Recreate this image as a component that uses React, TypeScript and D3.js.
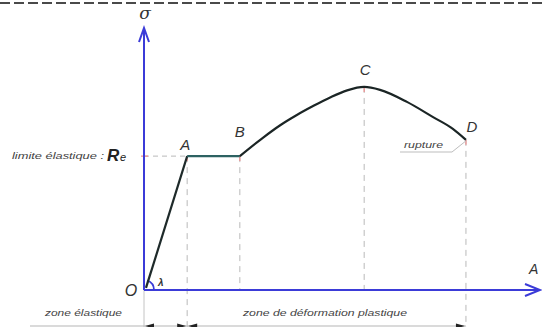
import React from "react";
import * as d3 from "d3";

// Key points of the stress–strain diagram
const keyLabels = ["O", "A", "B", "C", "D"];
const keyStrain = [0, 10.9, 24.2, 55.6, 81.3];
const keyStress = [0, 51.1, 51.1, 77.5, 57.3];

// Strain-hardening / necking curve from B through C to D
const hardeningStrain = [24.2, 30.1, 34.3, 38.6, 42.7, 47.0, 51.3, 55.6, 59.6, 66.4, 73.0, 78.0, 81.3];
const hardeningStress = [51.1, 58.2, 62.8, 66.8, 70.2, 73.5, 76.2, 77.5, 76.4, 71.8, 66.0, 61.5, 57.3];

const zoneLabels = ["zone élastique", "zone de déformation plastique"];

const W = 542;
const H = 327;

export default function App() {
  const x = d3.scaleLinear().domain([0, 100]).range([144, 540]);
  const y = d3.scaleLinear().domain([0, 100]).range([290, 28]);

  const pt = (i: number) => ({ x: x(keyStrain[i]), y: y(keyStress[i]) });
  const O = pt(0), A = pt(1), B = pt(2), C = pt(3), D = pt(4);

  const line = d3
    .line<[number, number]>()
    .x((d) => x(d[0]))
    .y((d) => y(d[1]));
  const smooth = d3
    .line<[number, number]>()
    .x((d) => x(d[0]))
    .y((d) => y(d[1]))
    .curve(d3.curveMonotoneX);

  const elastic = line([
    [keyStrain[0] + 0.5, keyStress[0] + 0.8],
    [keyStrain[1], keyStress[1]],
  ]);
  const plateau = line([
    [keyStrain[1], keyStress[1]],
    [keyStrain[2], keyStress[2]],
  ]);
  const hardening = smooth(hardeningStrain.map((s, i) => [s, hardeningStress[i]] as [number, number]));

  const axisColor = "#3b3bd8";
  const dashColor = "#b9b9b9";
  const pink = "#ef8c8c";
  const bottomY = 326;

  // angle arc at the origin between the strain axis and the elastic line
  const ang = Math.atan2(A.y - O.y, A.x - O.x);
  const r = 10;
  const arc = `M${O.x + r},${O.y} A${r},${r} 0 0 0 ${O.x + r * Math.cos(ang)},${O.y + r * Math.sin(ang)}`;

  const arrowHead = (tx: number, dir: number) =>
    `M${tx},${bottomY} L${tx + dir * 9},${bottomY - 2.5} L${tx + dir * 9},${bottomY + 2.5} Z`;

  return (
    <svg
      width={W}
      height={H}
      style={{ position: "absolute", left: 0, top: 0, background: "#fff" }}
      fontFamily="Liberation Sans, Arial, sans-serif"
    >
      <rect width={W} height={H} fill="#fff" />
      {/* top border */}
      <line x1={0} x2={W} y1={3} y2={3} stroke="#4a4a4a" strokeWidth={2} strokeDasharray="10 4" />

      {/* guide lines */}
      <line x1={O.x} x2={A.x} y1={A.y} y2={A.y} stroke={dashColor} strokeDasharray="5 4" />
      <line x1={O.x - 3} x2={O.x + 4} y1={A.y} y2={A.y} stroke={pink} strokeWidth={1.2} />
      <line x1={A.x} x2={A.x} y1={A.y} y2={H} stroke={dashColor} strokeDasharray="6 5" />
      <line x1={B.x} x2={B.x} y1={B.y} y2={O.y} stroke={dashColor} strokeDasharray="6 5" />
      <line x1={C.x} x2={C.x} y1={C.y} y2={O.y} stroke={dashColor} strokeDasharray="6 5" />
      <line x1={D.x} x2={D.x} y1={D.y} y2={H} stroke={dashColor} strokeDasharray="6 5" />
      <line x1={O.x} x2={O.x} y1={O.y} y2={H} stroke="#c4c4c4" />
      {[A, B, C, D].map((p, i) => (
        <line key={i} x1={p.x} x2={p.x} y1={p.y} y2={p.y + 5} stroke={pink} strokeWidth={1.2} />
      ))}

      {/* dimension line for the zones */}
      <line x1={30} x2={D.x} y1={bottomY} y2={bottomY} stroke="#b5b5b5" />
      <path d={arrowHead(O.x + 1, 1)} fill="#222" />
      <path d={arrowHead(A.x - 1, -1)} fill="#222" />
      <path d={arrowHead(A.x + 1, 1)} fill="#222" />
      <path d={arrowHead(D.x - 1, -1)} fill="#222" />

      {/* axes */}
      <line x1={O.x} x2={O.x} y1={O.y} y2={y(100) + 1} stroke={axisColor} strokeWidth={2} />
      <path
        d={`M${O.x - 5},${y(100) + 14} L${O.x},${y(100)} L${O.x + 5},${y(100) + 14}`}
        fill="none"
        stroke={axisColor}
        strokeWidth={2}
      />
      <line x1={O.x} x2={x(100) - 1} y1={O.y} y2={O.y} stroke={axisColor} strokeWidth={2} />
      <path
        d={`M${x(100) - 15},${O.y - 6} L${x(100)},${O.y} L${x(100) - 15},${O.y + 6}`}
        fill="none"
        stroke={axisColor}
        strokeWidth={2}
      />
      <path d={arc} fill="none" stroke={axisColor} strokeWidth={1.8} />

      {/* curve */}
      <path d={elastic ?? ""} fill="none" stroke="#1e2a2a" strokeWidth={2.2} />
      <path d={plateau ?? ""} fill="none" stroke="#2d6262" strokeWidth={2.2} />
      <path d={hardening ?? ""} fill="none" stroke="#1b2525" strokeWidth={2.2} />

      {/* rupture leader */}
      <path d={`M400,152 L452,152 L${D.x},${D.y + 1}`} fill="none" stroke="#bdbdbd" />

      {/* labels */}
      <text x={O.x + 1} y={19} textAnchor="middle" fontSize={17} fontStyle="italic" fontFamily="DejaVu Serif, serif" fill="#333">σ</text>
      <text x={A.x - 2} y={A.y - 6} textAnchor="middle" fontSize={15} fontStyle="italic" fill="#333">{keyLabels[1]}</text>
      <text x={B.x} y={B.y - 19} textAnchor="middle" fontSize={15} fontStyle="italic" fill="#333">{keyLabels[2]}</text>
      <text x={C.x + 1} y={C.y - 12} textAnchor="middle" fontSize={15} fontStyle="italic" fill="#333">{keyLabels[3]}</text>
      <text x={D.x + 6} y={D.y - 8} textAnchor="middle" fontSize={15} fontStyle="italic" fill="#333">{keyLabels[4]}</text>
      <text x={O.x - 13} y={O.y + 6} textAnchor="middle" fontSize={16} fontStyle="italic" fill="#333">{keyLabels[0]}</text>
      <text x={O.x + 14} y={O.y - 4} fontSize={10} fontStyle="italic" fontWeight="bold" fill="#333">λ</text>
      <text x={529} y={O.y - 16} fontSize={14} fontStyle="italic" fill="#333">A</text>

      <text x={12} y={A.y + 3} fontSize={9} fontStyle="italic" fill="#444" textLength={92} lengthAdjust="spacingAndGlyphs">limite élastique :</text>
      <text x={107} y={A.y + 5} fontSize={17} fontStyle="italic" fontWeight="bold" fill="#222">R</text>
      <text x={120} y={A.y + 5} fontSize={11} fontStyle="italic" fill="#222">e</text>

      <text x={404} y={148} fontSize={9} fontStyle="italic" fill="#444" textLength={39} lengthAdjust="spacingAndGlyphs">rupture</text>

      <text x={45} y={316} fontSize={9} fontStyle="italic" fill="#444" textLength={77} lengthAdjust="spacingAndGlyphs">{zoneLabels[0]}</text>
      <text x={243} y={316} fontSize={9} fontStyle="italic" fill="#444" textLength={164} lengthAdjust="spacingAndGlyphs">{zoneLabels[1]}</text>
    </svg>
  );
}
